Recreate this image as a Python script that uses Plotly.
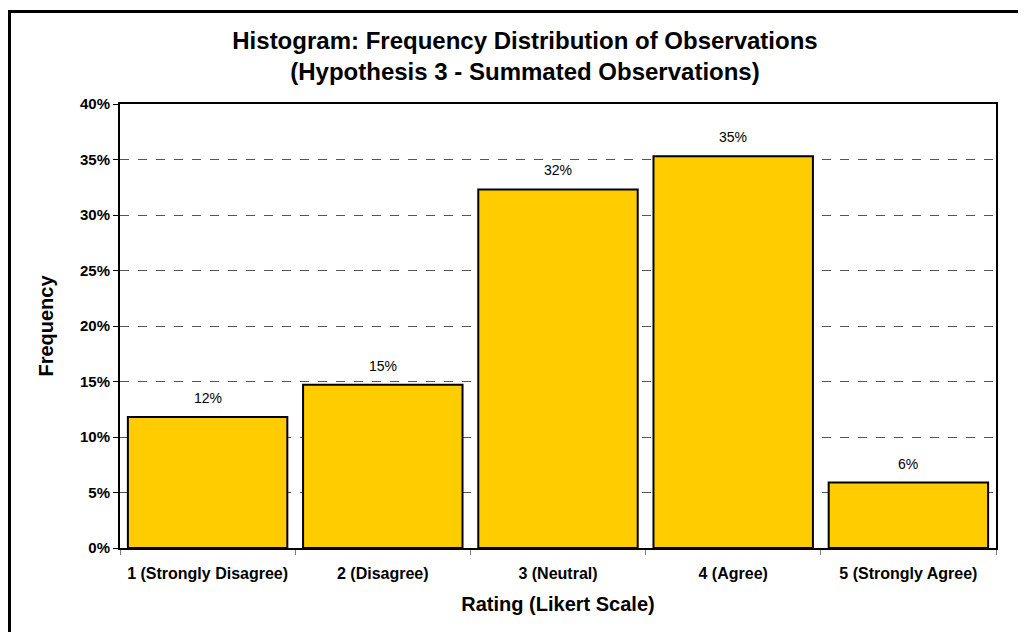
import plotly.graph_objects as go

categories = ["1 (Strongly Disagree)", "2 (Disagree)", "3 (Neutral)", "4 (Agree)", "5 (Strongly Agree)"]
frequency = [0.118, 0.147, 0.323, 0.353, 0.059]
labels = ["12%", "15%", "32%", "35%", "6%"]

FONT = "Arial, Liberation Sans, sans-serif"

fig = go.Figure(go.Bar(
    x=categories, y=frequency,
    marker=dict(color="#FFCC00", line=dict(color="black", width=2)),
    width=0.91,
))

for c, v, t in zip(categories, frequency, labels):
    fig.add_annotation(x=c, y=v, text=t, showarrow=False, yanchor="bottom", yshift=9,
                       font=dict(family=FONT, size=14, color="black"))

# page is offset by 8px body margin
W, H = 1018, 624
L, R, T, B = 112, 30, 96, 84
pw, ph = W - L - R, H - T - B

fig.update_layout(
    width=W, height=H,
    margin=dict(l=L, r=R, t=T, b=B),
    paper_bgcolor="white", plot_bgcolor="white",
    showlegend=False,
    title=dict(text="Histogram: Frequency Distribution of Observations<br>(Hypothesis 3 - Summated Observations)",
               x=517 / W, xanchor="center", y=1 - 41 / H, yanchor="middle",
               font=dict(family=FONT, size=24, color="black", weight="bold")),
    font=dict(family=FONT, color="black"),
)
fig.update_xaxes(
    showline=True, linecolor="black", linewidth=2, mirror=True,
    ticks="outside", tickson="boundaries", ticklen=5, tickcolor="gray",
    ticklabelstandoff=10,
    tickfont=dict(family=FONT, size=16, color="black", weight="bold"),
    title=dict(text="Rating (Likert Scale)", standoff=16,
               font=dict(family=FONT, size=20, color="black", weight="bold")),
    showgrid=False,
)
fig.update_yaxes(
    range=[0, 0.40], dtick=0.05, tickformat=".0%",
    showline=True, linecolor="black", linewidth=2, mirror=True,
    ticks="outside", ticklen=5, tickcolor="black",
    tickfont=dict(family=FONT, size=15, color="black", weight="bold"),
    showgrid=True, gridcolor="#555555", gridwidth=1, griddash="dash",
    title=dict(text="Frequency", standoff=21,
               font=dict(family=FONT, size=20, color="black", weight="bold")),
    zeroline=False,
)
# outer chart border (clipped at right and bottom in reference)
fig.add_shape(type="rect", xref="paper", yref="paper",
              x0=(1.5 - L) / pw, x1=(W + 20 - L) / pw,
              y0=-(B + 20) / ph, y1=1 + (T - 3.5) / ph,
              line=dict(color="black", width=3), fillcolor="rgba(0,0,0,0)", layer="above")

fig.write_html("out.html")
